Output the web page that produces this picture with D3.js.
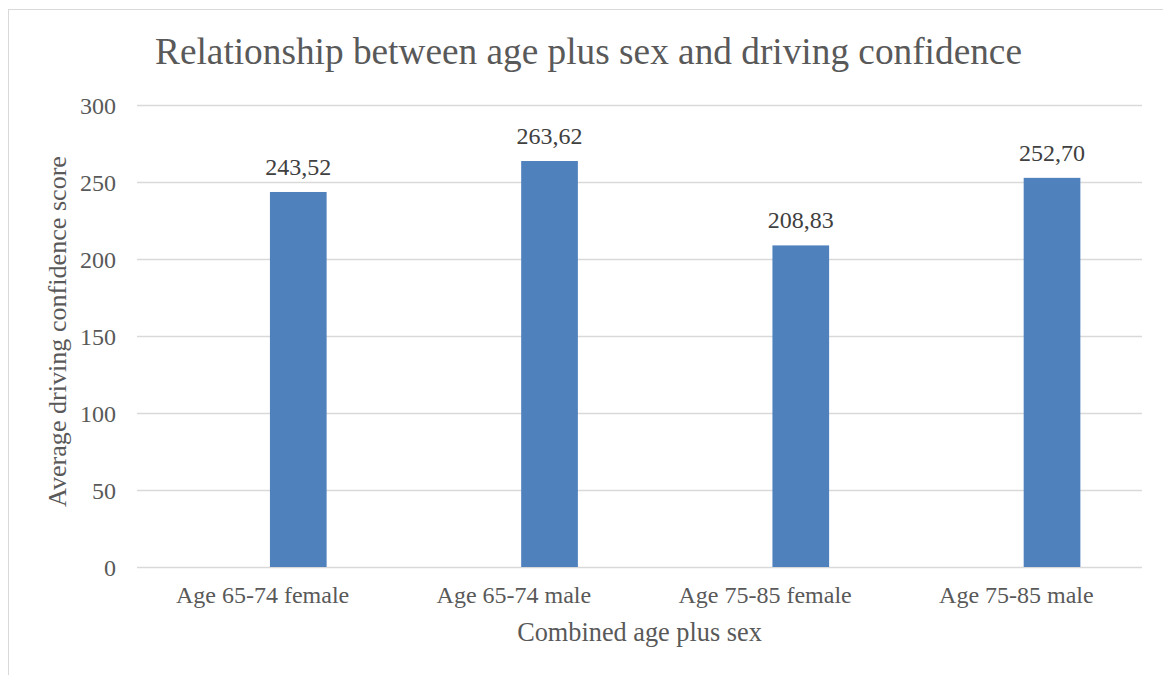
<!DOCTYPE html>
<html>
<head>
<meta charset="utf-8">
<script src="https://cdn.jsdelivr.net/npm/d3@7"></script>
<style>
  html, body { margin: 0; padding: 0; background: #fff; }
  svg { display: block; }
  svg text { font-family: "Liberation Serif", "Times New Roman", serif; }
</style>
</head>
<body>
<div class="chart"></div>
<script>
// data
const categories = ["Age 65-74 female", "Age 65-74 male", "Age 75-85 female", "Age 75-85 male"];
const scores = [243.52, 263.62, 208.83, 252.70];
const yTicks = [0, 50, 100, 150, 200, 250, 300];
const series = ["blank", "score"]; // first series is empty in the original, so bars sit right of centre

const width = 1163, height = 675;
const plot = { left: 137, right: 1142, top: 105, bottom: 567 };
const serif = "Liberation Serif";

const svg = d3.select(".chart").append("svg")
  .attr("width", width)
  .attr("height", height);

// chart frame (cut off on the right and bottom in the reference)
svg.append("rect")
  .attr("x", 8.5).attr("y", 9.5)
  .attr("width", width + 20).attr("height", height + 20)
  .attr("fill", "none")
  .attr("stroke", "#d9d9d9");

const x = d3.scaleBand()
  .domain(categories)
  .range([plot.left, plot.right]);

const x1 = d3.scaleBand()
  .domain(series)
  .range([0, x.bandwidth()])
  .paddingInner(0)
  .paddingOuter(1.216)
  .align(0.553);

const y = d3.scaleLinear()
  .domain([0, 300])
  .range([plot.bottom, plot.top]);

const fmt = d3.formatLocale({ decimal: ",", thousands: ".", grouping: [3], currency: ["", ""] }).format(".2f");

// gridlines
svg.append("g")
  .selectAll("line")
  .data(yTicks)
  .join("line")
  .attr("x1", plot.left)
  .attr("x2", plot.right)
  .attr("y1", d => Math.round(y(d)) + 0.5)
  .attr("y2", d => Math.round(y(d)) + 0.5)
  .attr("stroke", "#d9d9d9")
  .attr("stroke-width", 1.3);

// y axis labels
const yAxis = svg.append("g")
  .attr("transform", `translate(${plot.left - 21},0)`)
  .call(d3.axisLeft(y).tickValues(yTicks).tickSize(0).tickPadding(0));
yAxis.attr("font-family", serif);
yAxis.select(".domain").remove();
yAxis.selectAll("text")
  .attr("font-family", serif)
  .attr("font-size", 24)
  .attr("fill", "#595959")
  .attr("dy", "0.34em");

// x axis labels
const xAxis = svg.append("g")
  .attr("transform", `translate(0,${plot.bottom})`)
  .call(d3.axisBottom(x).tickSize(0).tickPadding(0));
xAxis.attr("font-family", serif);
xAxis.select(".domain").remove();
xAxis.selectAll("text")
  .attr("font-family", serif)
  .attr("font-size", 24)
  .attr("fill", "#595959")
  .attr("dy", null)
  .attr("y", 36);

// bars
svg.append("g")
  .selectAll("rect")
  .data(scores)
  .join("rect")
  .attr("x", (d, i) => x(categories[i]) + x1("score"))
  .attr("width", x1.bandwidth())
  .attr("y", d => y(d))
  .attr("height", d => y(0) - y(d))
  .attr("fill", "#4f81bd");

// data labels
svg.append("g")
  .selectAll("text")
  .data(scores)
  .join("text")
  .attr("x", (d, i) => x(categories[i]) + x1("score") + x1.bandwidth() / 2)
  .attr("y", d => y(d) - 17)
  .attr("text-anchor", "middle")
  .attr("font-family", serif)
  .attr("font-size", 24)
  .attr("fill", "#404040")
  .text(d => fmt(d));

// title
svg.append("text")
  .attr("x", 588.5)
  .attr("y", 64)
  .attr("text-anchor", "middle")
  .attr("font-family", serif)
  .attr("font-size", 37.3)
  .attr("fill", "#595959")
  .text("Relationship between age plus sex and driving confidence");

// axis titles
svg.append("text")
  .attr("x", (plot.left + plot.right) / 2)
  .attr("y", 641)
  .attr("text-anchor", "middle")
  .attr("font-family", serif)
  .attr("font-size", 26.3)
  .attr("fill", "#595959")
  .text("Combined age plus sex");

svg.append("text")
  .attr("transform", "translate(66,331.5) rotate(-90)")
  .attr("text-anchor", "middle")
  .attr("font-family", serif)
  .attr("font-size", 26.1)
  .attr("fill", "#595959")
  .text("Average driving confidence score");
</script>
</body>
</html>
